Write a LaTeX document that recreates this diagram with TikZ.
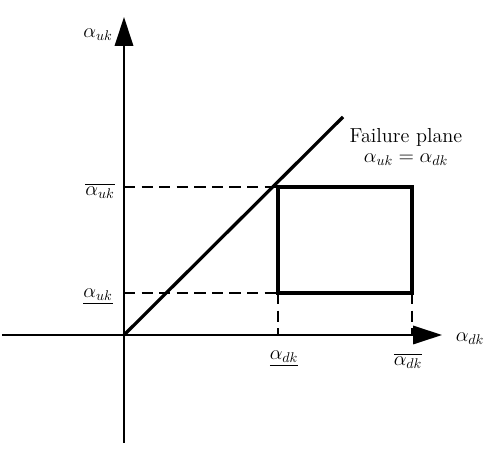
\documentclass[tikz,border=0pt]{standalone}
\usepackage{amsmath}
\usetikzlibrary{arrows.meta,positioning}
\tikzset{
  axis/.style={line width=1.2pt, -{Triangle[length=7.2mm,width=4.6mm]}},
  plane/.style={line width=2.3pt},
  region/.style={line width=2.3pt},
  guide/.style={line width=0.9pt, dash pattern=on 8pt off 4.5pt},
  lbl/.style={font=\Large, inner sep=1pt}
}
\begin{document}
\begin{tikzpicture}
  \useasboundingbox (-3.1,-3.125) rectangle (9.4,8.375);
  % axes
  \coordinate (O) at (0,0);
  \coordinate (xl) at (-3.05,0);
  \coordinate (xr) at (7.95,0);
  \coordinate (yb) at (0,-2.7);
  \coordinate (yt) at (0,7.95);
  \draw[axis] (xl) -- (xr);
  \draw[axis] (yb) -- (yt);
  \node[lbl] (xname) at (8.65,-0.1) {$\alpha_{dk}$};
  \node[lbl] (yname) at (-0.65,7.5) {$\alpha_{uk}$};
  % failure plane
  \coordinate (fp) at (5.475,5.45);
  \draw[plane] (O) -- (fp);
  \node[lbl] (fptext) at (7.05,4.95) {Failure plane};
  \node[lbl,below=0.12cm of fptext] (fpeq) {$\alpha_{uk}=\alpha_{dk}$};
  % safe region
  \coordinate (r1) at (3.85,1.05);
  \coordinate (r2) at (7.2,1.05);
  \coordinate (r3) at (7.2,3.7);
  \coordinate (r4) at (3.85,3.7);
  \draw[region] (r1) rectangle (r3);
  % guides
  \coordinate (gu) at (0,3.7);
  \coordinate (gl) at (0,1.05);
  \coordinate (gd1) at (3.85,0);
  \coordinate (gd2) at (7.2,0);
  \draw[guide] (gu) -- (r4);
  \draw[guide] (gl) -- (r1);
  \draw[guide] (r1) -- (gd1);
  \draw[guide] (r2) -- (gd2);
  % bounds
  \node[lbl] (uhi) at (-0.6,3.6) {$\overline{\alpha_{uk}}$};
  \node[lbl] (ulo) at (-0.65,0.95) {$\underline{\alpha_{uk}}$};
  \node[lbl] (dlo) at (4.0,-0.6) {$\underline{\alpha_{dk}}$};
  \node[lbl] (dhi) at (7.1,-0.65) {$\overline{\alpha_{dk}}$};
\end{tikzpicture}
\end{document}
